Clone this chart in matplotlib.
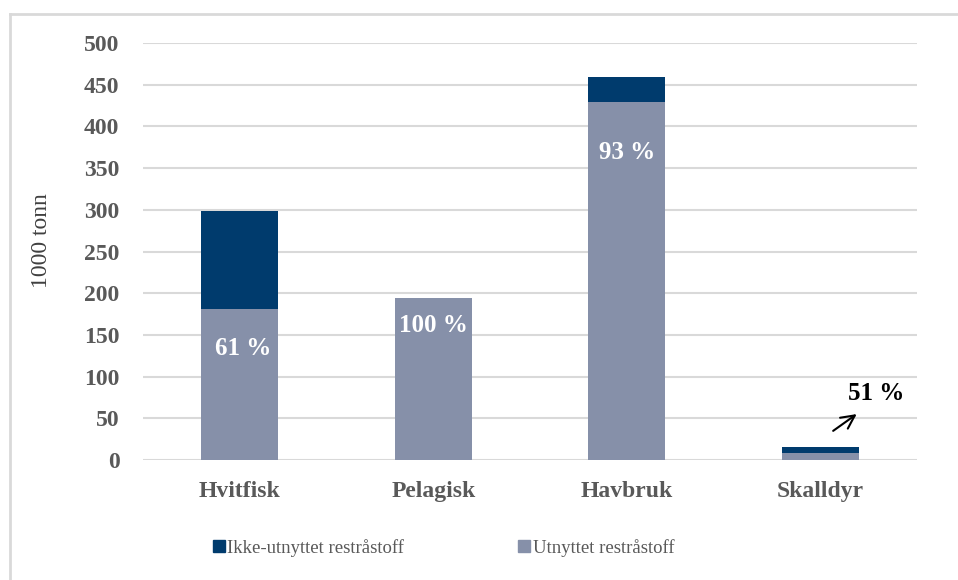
import numpy as np
import matplotlib.pyplot as plt
from matplotlib.lines import Line2D

# Restråstoff per sektor (1000 tonn)
kategorier = ['Hvitfisk', 'Pelagisk', 'Havbruk', 'Skalldyr']
utnyttet = [181, 194, 429, 8]
ikke_utnyttet = [117, 0, 30, 8]
andel = ['61 %', '100 %', '93 %', '51 %']
y_ticks = [0, 50, 100, 150, 200, 250, 300, 350, 400, 450, 500]

mork = '#003B6D'
lys = '#8690A9'
grid_farge = '#D9D9D9'
tekst_farge = '#595959'

plt.rcParams['font.family'] = ['Liberation Serif', 'DejaVu Serif']

fig = plt.figure(figsize=(9.58, 5.8), dpi=100)
ax = fig.add_axes([143 / 958, 1 - 460 / 580, (917 - 143) / 958, (460 - 43) / 580])

x = np.arange(len(kategorier))
ax.bar(x, utnyttet, width=0.40, color=lys, label='Utnyttet restråstoff', zorder=3)
ax.bar(x, ikke_utnyttet, width=0.40, bottom=utnyttet, color=mork,
       label='Ikke-utnyttet restråstoff', zorder=3)

ax.set_xlim(-0.5, len(kategorier) - 0.5)
ax.set_ylim(0, 500)
ax.set_yticks(y_ticks)
ax.set_xticks(x)
ax.set_xticklabels(kategorier, fontsize=17, fontweight='bold', color=tekst_farge)
ax.set_yticklabels([str(v) for v in y_ticks], fontsize=17, fontweight='bold', color=tekst_farge)
ax.tick_params(axis='both', length=0)
ax.tick_params(axis='y', pad=17)
ax.tick_params(axis='x', pad=15)
ax.grid(axis='y', color=grid_farge, linewidth=1.5, zorder=0)
for s in ax.spines.values():
    s.set_visible(False)

ax.set_ylabel('1000 tonn', fontsize=17, color='#404040')
ax.yaxis.set_label_coords(-0.118, 0.525)

# Andel utnyttet
ax.text(0.02, 134, andel[0], color='white', fontsize=18, fontweight='bold', ha='center', va='center', zorder=4)
ax.text(1, 161, andel[1], color='white', fontsize=18, fontweight='bold', ha='center', va='center', zorder=4)
ax.text(2, 369, andel[2], color='white', fontsize=18, fontweight='bold', ha='center', va='center', zorder=4)
ax.text(3.29, 80, andel[3], color='black', fontsize=18, fontweight='bold', ha='center', va='center', zorder=4)
ax.annotate('', xy=(3.2, 57), xytext=(3.055, 33),
            arrowprops=dict(arrowstyle='->', color='black', lw=1.5, mutation_scale=24))

# Legende
handles = [
    Line2D([], [], marker='s', linestyle='none', markersize=8, color=mork),
    Line2D([], [], marker='s', linestyle='none', markersize=8, color=lys),
]
fig.legend(handles, ['Ikke-utnyttet restråstoff', 'Utnyttet restråstoff'],
           loc='center', bbox_to_anchor=(443 / 958, 1 - 548 / 580), ncol=2,
           frameon=False, fontsize=13.5, labelcolor=tekst_farge,
           handletextpad=0.05, columnspacing=6.0, handlelength=0.8)

# Ramme
fig.add_artist(Line2D([10 / 958, 1], [1 - 14 / 580, 1 - 14 / 580], color=grid_farge, lw=2))
fig.add_artist(Line2D([10 / 958, 10 / 958], [0, 1 - 14 / 580], color=grid_farge, lw=2))

fig.savefig('out.png', dpi=100)
